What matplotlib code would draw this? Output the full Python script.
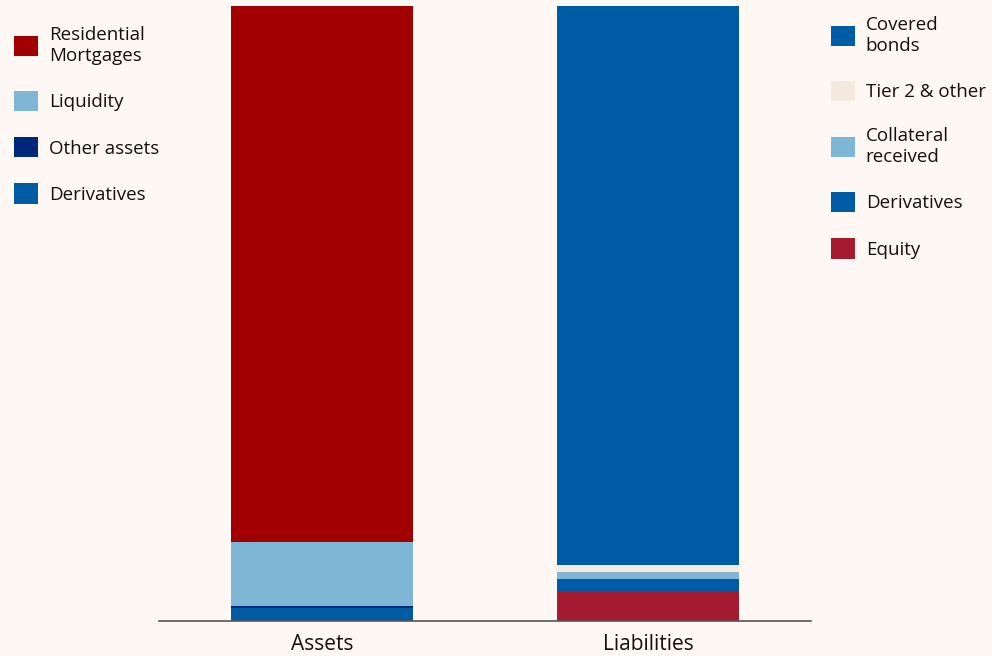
import matplotlib.pyplot as plt
import numpy as np

plt.rcParams['font.family'] = ['Open Sans', 'DejaVu Sans']

categories = ['Assets', 'Liabilities']

# stacked from the bottom up (% of balance sheet)
asset_labels = ['Derivatives', 'Other assets', 'Liquidity', 'Residential\nMortgages']
asset_values = [2.1, 0.3, 10.5, 87.1]
asset_colors = ['#005BA5', '#00287A', '#7FB5D5', '#A20000']

liab_labels = ['Equity', 'Derivatives', 'Collateral\nreceived', 'Tier 2 & other', 'Covered\nbonds']
liab_values = [4.9, 1.95, 1.1, 1.1, 90.95]
liab_colors = ['#A51A2F', '#005BA5', '#7FB5D5', '#F6E9DD', '#005BA5']

bg = '#FDF8F4'
fig = plt.figure(figsize=(9.92, 6.56), dpi=100, facecolor=bg)
ax = fig.add_axes([159 / 992, 35 / 656, 652 / 992, 615 / 656])
ax.set_facecolor(bg)

width = 0.56
x = np.arange(len(categories))

asset_bars = []
bottom = 0
for lab, val, col in zip(asset_labels, asset_values, asset_colors):
    b = ax.bar(x[0], val, width, bottom=bottom, color=col, label=lab)
    asset_bars.append(b)
    bottom += val

liab_bars = []
bottom = 0
for lab, val, col in zip(liab_labels, liab_values, liab_colors):
    b = ax.bar(x[1], val, width, bottom=bottom, color=col, label=lab)
    liab_bars.append(b)
    bottom += val

ax.set_xlim(-0.5, 1.5)
ax.set_ylim(0, 100)
ax.set_xticks(x)
ax.set_xticklabels(categories, fontsize=15, color='#111111')
ax.tick_params(axis='x', length=0, pad=9)
ax.set_yticks([])
for s in ['top', 'right', 'left']:
    ax.spines[s].set_visible(False)
ax.spines['bottom'].set_color('#555555')
ax.spines['bottom'].set_linewidth(1.2)

leg_kw = dict(frameon=False, fontsize=13.5, handlelength=1.3, handleheight=1.3,
              handletextpad=0.55, labelspacing=1.38, borderaxespad=0, borderpad=0,
              labelcolor='#111111')

fig.legend(asset_bars[::-1], asset_labels[::-1], loc='upper left',
           bbox_to_anchor=(14 / 992, 1 - 26 / 656), **leg_kw)
fig.legend(liab_bars[::-1], liab_labels[::-1], loc='upper left',
           bbox_to_anchor=(831 / 992, 1 - 16 / 656), **leg_kw)

fig.savefig('out.png', dpi=100, facecolor=bg)
